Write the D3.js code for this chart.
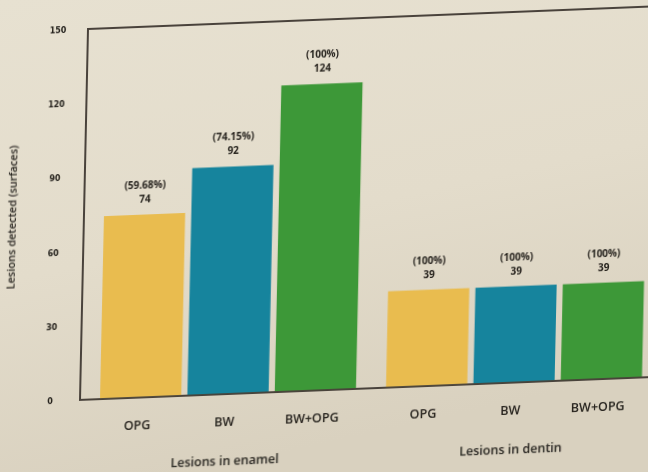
<!DOCTYPE html>
<html>
<head>
<meta charset="utf-8">
<script src="https://cdn.jsdelivr.net/npm/d3@7"></script>
<style>
  html, body { margin: 0; padding: 0; background: #e4ddcc; }
  svg { display: block; }
  text { font-family: "Open Sans", "DejaVu Sans", sans-serif; fill: #26231e; }
</style>
</head>
<body>
<svg id="chart"></svg>
<script>
// data
var groups = ["Lesions in enamel", "Lesions in dentin"];
var methods = ["OPG", "BW", "BW+OPG"];
var enamelValues = [74, 92, 124];
var dentinValues = [39, 39, 39];
var enamelPct = ["59.68%", "74.15%", "100%"];
var dentinPct = ["100%", "100%", "100%"];
var yTicks = [0, 30, 60, 90, 120, 150];
var colors = ["#e9bc50", "#17849d", "#3d9837"];

var W = 648, H = 472;
var plotW = 600, plotH = 371;

var rows = [];
groups.forEach(function(g, gi) {
    var vals = gi === 0 ? enamelValues : dentinValues;
    var pcts = gi === 0 ? enamelPct : dentinPct;
    methods.forEach(function(m, mi) {
        rows.push({ group: g, method: m, value: vals[mi], pct: pcts[mi], color: colors[mi] });
    });
});

var svg = d3.select("#chart").attr("width", W).attr("height", H);

// photo-ish background
var defs = svg.append("defs");
var grad = defs.append("linearGradient").attr("id", "bg")
    .attr("x1", "0").attr("y1", "0").attr("x2", "0.3").attr("y2", "1");
grad.append("stop").attr("offset", "0%").attr("stop-color", "#e7e1d1");
grad.append("stop").attr("offset", "55%").attr("stop-color", "#e3dccb");
grad.append("stop").attr("offset", "100%").attr("stop-color", "#d9d1bf");
defs.append("filter").attr("id", "soft")
    .append("feGaussianBlur").attr("stdDeviation", 0.4);

svg.append("rect").attr("width", W).attr("height", H).attr("fill", "url(#bg)");

// slight shear to follow the camera angle of the slide
var g = svg.append("g")
    .attr("transform", "matrix(1,-0.04,-0.0216,1,88,29)")
    .attr("filter", "url(#soft)");

var y = d3.scaleLinear().domain([0, 150]).range([plotH, 0]);

var x0 = d3.scaleBand().domain(groups).range([0, 582])
    .paddingInner(0.105).paddingOuter(0.07);
var x1 = d3.scaleBand().domain(methods).range([0, x0.bandwidth()])
    .paddingInner(0.07);

// frame (right edge falls outside the photo)
g.append("path")
    .attr("d", "M" + plotW + ",0H0V" + plotH + "H" + plotW)
    .attr("fill", "none").attr("stroke", "#48433a").attr("stroke-width", 2);

// y tick labels
var yAxis = g.append("g").attr("transform", "translate(-24,0)")
    .call(d3.axisLeft(y).tickValues(yTicks).tickSize(0).tickPadding(0));
yAxis.select(".domain").remove();
yAxis.selectAll("text")
    .attr("font-size", 8).attr("font-weight", "bold")
    .attr("text-anchor", "middle").attr("dx", "-6")
    .style("font-family", "'DejaVu Sans', sans-serif").style("fill", "#26231e");

g.append("text")
    .attr("transform", "translate(-68," + (plotH / 2) + ") rotate(-90)")
    .attr("text-anchor", "middle")
    .attr("font-size", 11).attr("font-weight", 600)
    .text("Lesions detected (surfaces)");

// bars
var bars = g.selectAll(".bar").data(rows).enter().append("g").attr("class", "bar")
    .attr("transform", function(d) { return "translate(" + (x0(d.group) + x1(d.method)) + ",0)"; });

bars.append("rect")
    .attr("y", function(d) { return y(d.value); })
    .attr("width", x1.bandwidth())
    .attr("height", function(d) { return plotH - 1 - y(d.value); })
    .attr("fill", function(d) { return d.color; });

bars.append("text")
    .attr("x", x1.bandwidth() / 2)
    .attr("y", function(d) { return y(d.value) - 26; })
    .attr("text-anchor", "middle").attr("font-size", 10).attr("font-weight", 700)
    .text(function(d) { return "(" + d.pct + ")"; });

bars.append("text")
    .attr("x", x1.bandwidth() / 2)
    .attr("y", function(d) { return y(d.value) - 12; })
    .attr("text-anchor", "middle").attr("font-size", 10).attr("font-weight", 700)
    .text(function(d) { return d.value; });

// category and group labels
bars.append("text")
    .attr("x", x1.bandwidth() / 2 - 3)
    .attr("y", plotH + 32)
    .attr("text-anchor", "middle").attr("font-size", 12.5).attr("font-weight", 600)
    .text(function(d) { return d.method; });

g.selectAll(".grp").data(groups).enter().append("text")
    .attr("class", "grp")
    .attr("x", function(d) { return x0(d) + x0.bandwidth() / 2 - 2; })
    .attr("y", plotH + 71)
    .attr("text-anchor", "middle").attr("font-size", 12.5).attr("font-weight", 600)
    .text(function(d) { return d; });
</script>
</body>
</html>
